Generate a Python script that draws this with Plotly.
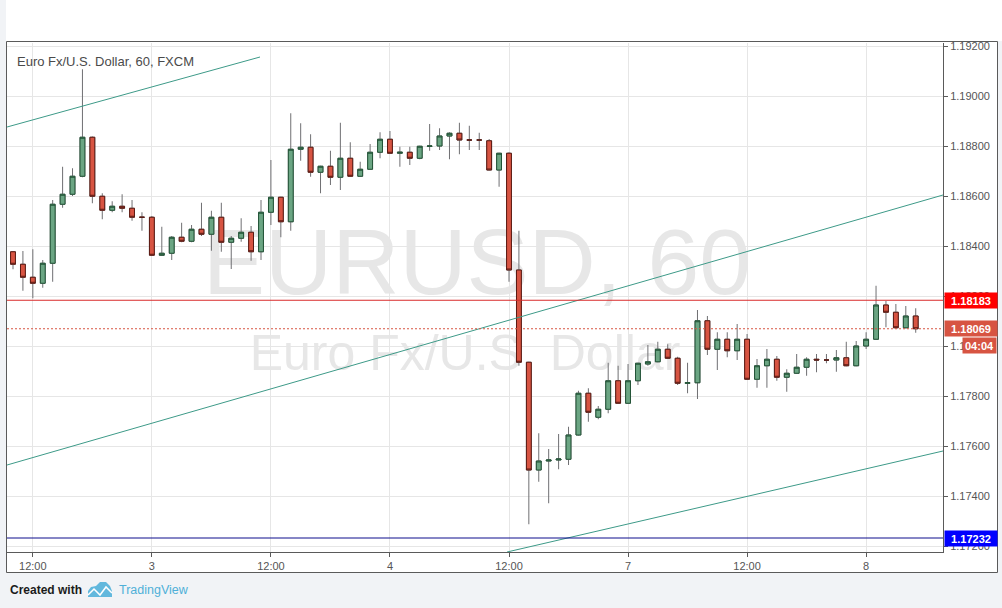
import plotly.graph_objects as go

# ---------------- data (EUR/USD, 60 min, FXCM) ----------------
bar_index = list(range(92))
open_ = [1.18377,1.18327,1.18275,1.18251,1.18331,1.18567,1.18607,1.18679,1.18835,1.18599,
         1.18543,1.18559,1.18551,1.18515,1.18515,1.18363,1.18371,1.18435,1.18419,1.18467,
         1.18447,1.18515,1.18415,1.18431,1.18455,1.18377,1.18535,1.18595,1.18497,1.18787,
         1.18795,1.18695,1.18719,1.18675,1.18751,1.18679,1.18707,1.18775,1.18827,1.18771,
         1.18775,1.18751,1.18799,1.18800,1.18840,1.18851,1.18824,1.18824,1.18821,1.18704,
         1.18771,1.18304,1.17935,1.17504,1.17540,1.17544,1.17547,1.17644,1.17811,1.17715,
         1.17747,1.17861,1.17771,1.17861,1.17928,1.17937,1.17987,1.17951,1.17851,1.17853,
         1.18101,1.17987,1.18027,1.17981,1.18027,1.17867,1.17921,1.17947,1.17875,1.17891,
         1.17915,1.17947,1.17944,1.17944,1.17953,1.17921,1.18000,1.18027,1.18164,1.18135,
         1.18073,1.18120]
high = [1.18380,1.18380,1.18387,1.18344,1.18584,1.18717,1.18711,1.19107,1.18838,1.18611,
        1.18579,1.18607,1.18584,1.18535,1.18520,1.18477,1.18440,1.18493,1.18484,1.18573,
        1.18541,1.18573,1.18440,1.18511,1.18480,1.18584,1.18744,1.18597,1.18931,1.18891,
        1.18847,1.18721,1.18781,1.18893,1.18815,1.18737,1.18808,1.18855,1.18860,1.18797,
        1.18797,1.18801,1.18888,1.18871,1.18855,1.18893,1.18881,1.18853,1.18828,1.18773,
        1.18775,1.18461,1.17937,1.17651,1.17588,1.17648,1.17677,1.17821,1.17831,1.17760,
        1.17933,1.17921,1.17928,1.17933,1.18004,1.18017,1.18007,1.17957,1.17933,1.18144,
        1.18120,1.18055,1.18055,1.18088,1.18048,1.17948,1.17988,1.17960,1.17907,1.17968,
        1.17955,1.17968,1.17968,1.17984,1.18017,1.18020,1.18055,1.18241,1.18180,1.18168,
        1.18160,1.18151]
low = [1.18307,1.18221,1.18191,1.18233,1.18257,1.18553,1.18600,1.18675,1.18571,1.18507,
       1.18535,1.18535,1.18501,1.18461,1.18360,1.18360,1.18344,1.18415,1.18415,1.18440,
       1.18381,1.18377,1.18308,1.18417,1.18341,1.18344,1.18484,1.18435,1.18461,1.18741,
       1.18677,1.18611,1.18644,1.18624,1.18677,1.18677,1.18705,1.18751,1.18769,1.18717,
       1.18724,1.18747,1.18781,1.18784,1.18747,1.18767,1.18784,1.18784,1.18703,1.18637,
       1.18257,1.17921,1.17287,1.17457,1.17371,1.17507,1.17524,1.17642,1.17697,1.17707,
       1.17731,1.17769,1.17769,1.17844,1.17921,1.17935,1.17949,1.17844,1.17811,1.17788,
       1.17964,1.17904,1.17955,1.17944,1.17865,1.17833,1.17833,1.17861,1.17817,1.17889,
       1.17881,1.17895,1.17931,1.17897,1.17919,1.17919,1.17988,1.18025,1.18075,1.18071,
       1.18071,1.18053]
close = [1.18327,1.18275,1.18251,1.18331,1.18567,1.18607,1.18679,1.18835,1.18599,1.18543,
         1.18559,1.18551,1.18515,1.18515,1.18363,1.18371,1.18435,1.18419,1.18467,1.18447,
         1.18515,1.18415,1.18431,1.18455,1.18377,1.18535,1.18595,1.18497,1.18787,1.18795,
         1.18695,1.18719,1.18675,1.18751,1.18679,1.18707,1.18775,1.18827,1.18771,1.18775,
         1.18751,1.18799,1.18800,1.18840,1.18851,1.18824,1.18824,1.18824,1.18704,1.18771,
         1.18304,1.17935,1.17504,1.17540,1.17544,1.17548,1.17644,1.17811,1.17735,1.17747,
         1.17861,1.17771,1.17861,1.17931,1.17937,1.17987,1.17951,1.17851,1.17853,1.18101,
         1.17987,1.18027,1.17981,1.18027,1.17867,1.17921,1.17947,1.17875,1.17891,1.17915,
         1.17947,1.17944,1.17944,1.17953,1.17921,1.18000,1.18027,1.18164,1.18135,1.18073,
         1.18120,1.18069]

x_tick_vals = [2, 14, 26, 38, 50, 62, 74, 86]
x_tick_text = ["12:00", "3", "12:00", "4", "12:00", "7", "12:00", "8"]
y_tick_vals = [1.172, 1.174, 1.176, 1.178, 1.180, 1.182, 1.184, 1.186, 1.188, 1.190, 1.192]

# trend lines: (bar index start, price start, bar index end, price end)
trend_lines = [
    (-0.6, 1.18876, 24.9, 1.19156),
    (-0.6, 1.17524, 93.75, 1.18604),
    (49.8, 1.17176, 93.75, 1.17580),
]
resistance_level = 1.18183
last_price = 1.18069
support_level = 1.17232
countdown_text = "04:04"

# ---------------- layout geometry (pixels) ----------------
W, H = 1002, 608
PL, PR, PT, PB = 7, 943, 43, 552


def px(xp):
    return (xp - PL) / (PR - PL)


def py(yp):
    return (PB - yp) / (PB - PT)


UP_FILL, UP_LINE = "#6ba583", "#225437"
DN_FILL, DN_LINE = "#d75442", "#5b1a13"
WICK = "#6f6f72"
TEAL = "#3d9a88"
FONT = "Liberation Sans, Arial, sans-serif"

body_hi = [max(o, c) for o, c in zip(open_, close)]
body_lo = [min(o, c) for o, c in zip(open_, close)]

fig = go.Figure()
# wicks
fig.add_trace(go.Candlestick(
    x=bar_index, open=open_, high=high, low=low, close=close,
    increasing=dict(line=dict(color=WICK, width=1), fillcolor="rgba(0,0,0,0)"),
    decreasing=dict(line=dict(color=WICK, width=1), fillcolor="rgba(0,0,0,0)"),
    hoverinfo="skip", showlegend=False))
# bodies
fig.add_trace(go.Candlestick(
    x=bar_index, open=open_, high=body_hi, low=body_lo, close=close,
    increasing=dict(line=dict(color=UP_LINE, width=1), fillcolor=UP_FILL),
    decreasing=dict(line=dict(color=DN_LINE, width=1), fillcolor=DN_FILL),
    hoverinfo="skip", showlegend=False))

shapes = []
# page pieces
shapes.append(dict(type="rect", xref="paper", yref="paper", layer="below",
                   x0=px(6), x1=px(W), y0=py(41), y1=py(0),
                   fillcolor="white", line=dict(width=0)))
shapes.append(dict(type="rect", xref="paper", yref="paper", layer="below",
                   x0=px(6.5), x1=px(997.5), y0=py(572.5), y1=py(41.5),
                   fillcolor="white", line=dict(color="#5a5a5a", width=1)))
# watermark
shapes.append(dict(type="rect", xref="paper", yref="paper", layer="below",
                   x0=px(177), x1=px(777), y0=py(303), y1=py(203),
                   line=dict(width=0), fillcolor="rgba(0,0,0,0)",
                   label=dict(text="EURUSD, 60", textposition="middle center",
                              font=dict(family=FONT, size=93, color="#e7e7e7"))))
shapes.append(dict(type="rect", xref="paper", yref="paper", layer="below",
                   x0=px(215), x1=px(715), y0=py(378), y1=py(318),
                   line=dict(width=0), fillcolor="rgba(0,0,0,0)",
                   label=dict(text="Euro Fx/U.S. Dollar", textposition="middle center",
                              font=dict(family=FONT, size=50, color="#e7e7e7"))))
# trend lines
for x0, y0, x1, y1 in trend_lines:
    shapes.append(dict(type="line", xref="x", yref="y", x0=x0, y0=y0, x1=x1, y1=y1,
                       line=dict(color=TEAL, width=1)))
# horizontal levels
shapes.append(dict(type="line", xref="paper", yref="y", x0=0, x1=1,
                   y0=resistance_level, y1=resistance_level,
                   line=dict(color="#d92b2b", width=1)))
shapes.append(dict(type="line", xref="paper", yref="y", x0=0, x1=1,
                   y0=last_price, y1=last_price,
                   line=dict(color=DN_FILL, width=1, dash="2px,2px")))
shapes.append(dict(type="line", xref="paper", yref="y", x0=0, x1=1,
                   y0=support_level, y1=support_level,
                   line=dict(color="#0c0c8c", width=1)))

# TradingView logo (small cloud)
cloud = [(88, 597), (88, 591), (91, 587), (96, 586), (100, 582), (106, 582),
         (110, 586), (112, 591), (112, 597)]
zig = [(88, 595), (94, 589), (100, 595), (106, 587), (112, 593)]
shapes.append(dict(type="path", xref="paper", yref="paper", layer="above",
                   path="M" + " L".join(f"{px(a):.5f},{py(b):.5f}" for a, b in cloud) + " Z",
                   fillcolor="#62b8dd", line=dict(width=0)))
shapes.append(dict(type="path", xref="paper", yref="paper", layer="above",
                   path="M" + " L".join(f"{px(a):.5f},{py(b):.5f}" for a, b in zig),
                   line=dict(color="white", width=1.5)))

annotations = [
    dict(text="Euro Fx/U.S. Dollar, 60, FXCM", xref="paper", yref="paper",
         x=px(15), y=py(61), xanchor="left", yanchor="middle", showarrow=False,
         font=dict(family=FONT, size=13, color="#4a4a4a")),
    dict(text=f"{resistance_level:.5f}", xref="paper", yref="y", x=px(944), y=resistance_level,
         xanchor="left", yanchor="middle", showarrow=False, bgcolor="#ff0000",
         width=50, height=13, borderpad=1,
         font=dict(family=FONT, size=11, color="white", weight="bold")),
    dict(text=f"{last_price:.5f}", xref="paper", yref="y", x=px(944), y=last_price,
         xanchor="left", yanchor="middle", showarrow=False, bgcolor=DN_FILL,
         width=50, height=13, borderpad=1,
         font=dict(family=FONT, size=11, color="white", weight="bold")),
    dict(text=countdown_text, xref="paper", yref="paper", x=px(962), y=py(345),
         xanchor="left", yanchor="middle", showarrow=False, bgcolor=DN_FILL,
         width=31, height=13, borderpad=1,
         font=dict(family=FONT, size=11, color="white", weight="bold")),
    dict(text=f"{support_level:.5f}", xref="paper", yref="y", x=px(944), y=support_level,
         xanchor="left", yanchor="middle", showarrow=False, bgcolor="#0000ff",
         width=50, height=13, borderpad=1,
         font=dict(family=FONT, size=11, color="white", weight="bold")),
    dict(text="Created with", xref="paper", yref="paper", x=px(8), y=py(590),
         xanchor="left", yanchor="middle", showarrow=False,
         font=dict(family=FONT, size=12, color="#1b1b1b", weight="bold")),
    dict(text="TradingView", xref="paper", yref="paper", x=px(117), y=py(590),
         xanchor="left", yanchor="middle", showarrow=False,
         font=dict(family=FONT, size=12.5, color="#4fb0d8")),
]

fig.update_layout(
    width=W, height=H,
    margin=dict(l=PL, r=W - PR, t=PT, b=H - PB, pad=0),
    paper_bgcolor="#f1f3f6", plot_bgcolor="white",
    showlegend=False, dragmode=False,
    shapes=shapes, annotations=annotations,
    xaxis=dict(range=[-0.605, 93.75], rangeslider=dict(visible=False),
               tickmode="array", tickvals=x_tick_vals, ticktext=x_tick_text,
               showgrid=True, gridcolor="#e6e6e6", gridwidth=1, zeroline=False,
               showline=True, linecolor="#5a5a5a", linewidth=1,
               ticks="outside", ticklen=4, tickcolor="#5a5a5a",
               tickfont=dict(family=FONT, size=11, color="#555555")),
    yaxis=dict(range=[1.17176, 1.19212], side="right",
               tickmode="array", tickvals=y_tick_vals,
               ticktext=[f"{v:.5f}" for v in y_tick_vals],
               showgrid=True, gridcolor="#e6e6e6", gridwidth=1, zeroline=False,
               showline=True, linecolor="#5a5a5a", linewidth=1,
               ticks="outside", ticklen=4, tickcolor="#5a5a5a",
               tickfont=dict(family=FONT, size=11, color="#555555")),
)

fig.write_html("out.html", config={"displayModeBar": False},
               post_script="document.body.style.margin='0px';document.body.style.overflow='hidden';")
